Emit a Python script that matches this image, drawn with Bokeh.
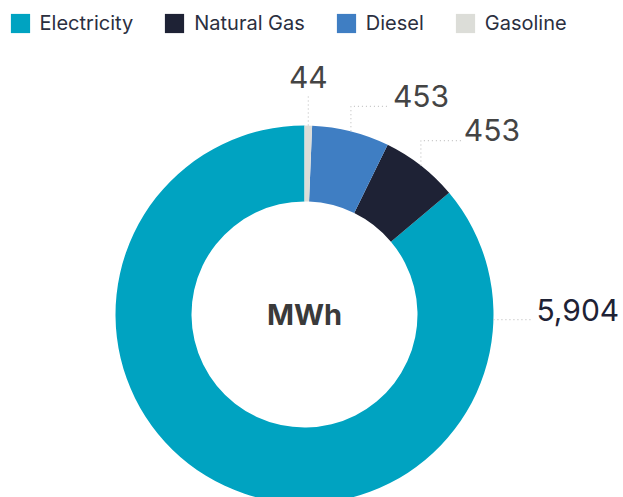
import math
from bokeh.plotting import figure
from bokeh.models import ColumnDataSource, Range1d
from bokeh.core.properties import value
from bokeh.embed import file_html
from bokeh.resources import INLINE

# ---- data ----
categories = ["Electricity", "Natural Gas", "Diesel", "Gasoline"]
values = [5904, 453, 453, 44]
labels = ["5,904", "453", "453", "44"]
colors = ["#00A3C1", "#1E2235", "#3F7EC3", "#DCDDD8"]
center_label = "MWh"

# ---- layout / style constants ----
W, H = 623, 497
CX, CY = 304, 183          # donut centre (data units = pixels)
R_OUT, R_IN = 189, 113
FONT = "Inter"

total = sum(values)
# slices drawn anticlockwise from 12 o'clock, in data order
starts, ends, mids = [], [], []
a = math.pi / 2
for v in values:
    span = 2 * math.pi * v / total
    starts.append(a)
    ends.append(a + span)
    mids.append(a + span / 2)
    a += span

src = ColumnDataSource(dict(category=categories, value=values, color=colors,
                            start=starts, end=ends))

p = figure(width=W, height=H, output_backend="svg", toolbar_location=None,
           x_range=Range1d(0, W), y_range=Range1d(497 - H, 497),
           x_axis_type=None, y_axis_type=None, min_border=0,
           outline_line_color=None)
p.grid.visible = False
p.background_fill_color = "white"

p.annular_wedge(x=CX, y=CY, inner_radius=R_IN, outer_radius=R_OUT,
                start_angle="start", end_angle="end", color="color",
                line_color=None, direction="anticlock", source=src,
                legend_field="category")

# ---- leader lines & labels ----
# per-slice leader style: (anchor angle override or None, rise, run, align, text lift)
leader_style = {
    "Electricity": (-0.027, 0, 40, "left", 10),
    "Natural Gas": (None, 25, 40, "left", 10.5),
    "Diesel": (None, 25, 39, "left", 10.5),
    "Gasoline": (None, 32, 0, "center", 17),
}
lx, ly, tx, ty, tt, talign, tcol = [], [], [], [], [], [], []
for cat, lab, mid in zip(categories, labels, mids):
    ang, rise, run, align, lift = leader_style[cat]
    ang = mid if ang is None else ang
    x0 = CX + R_OUT * math.cos(ang)
    y0 = CY + R_OUT * math.sin(ang)
    xs = [x0, x0, x0 + run]
    ys = [y0, y0 + rise, y0 + rise]
    lx.append(xs)
    ly.append(ys)
    tx.append(xs[-1] + (3 if align == "left" else 0))
    ty.append(ys[-1] + lift)
    tt.append(lab)
    talign.append(align)
    tcol.append("#1E2235" if cat == "Electricity" else "#444444")

p.multi_line(xs=lx, ys=ly, line_color="#C4C4C4", line_width=1.2,
             line_dash="1 3")
p.text(x=tx, y=ty, text=tt, text_align=talign, text_baseline="middle",
       text_font=value(FONT), text_font_size="30px", text_color=tcol)

p.text(x=[CX], y=[CY], text=[center_label], text_align="center",
       text_baseline="middle", text_font=value(FONT), text_font_size="29px",
       text_font_style="bold", text_color="#3A3A3A")

# ---- legend ----
lg = p.legend[0]
lg.orientation = "horizontal"
lg.location = (7.6, H - 34.5)
lg.margin = 0
lg.padding = 0
lg.spacing = 29
lg.glyph_width = 24
lg.glyph_height = 24
lg.label_standoff = 8
lg.border_line_color = None
lg.background_fill_alpha = 0
lg.label_text_font = FONT
lg.label_text_font_size = "20px"
lg.label_text_color = "#2B2F3F"

open("out.html", "w").write(file_html(p, INLINE))
